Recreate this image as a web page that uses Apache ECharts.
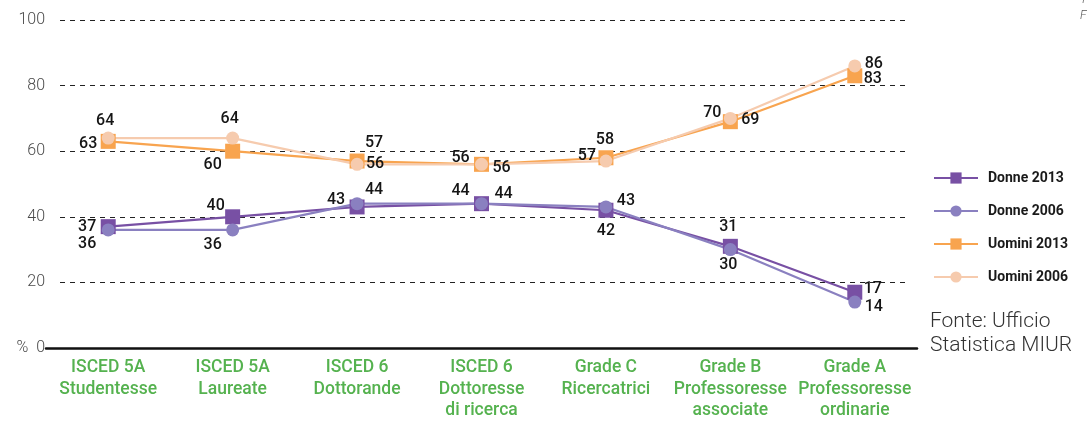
<!DOCTYPE html>
<html>
<head>
<meta charset="utf-8">
<script src="https://cdn.jsdelivr.net/npm/echarts@6/dist/echarts.min.js"></script>
<style>
  html, body { margin: 0; padding: 0; background: #fff; }
  #chart { width: 1087px; height: 422px; }
</style>
</head>
<body>
<div id="chart"></div>
<script>
// Categories (career stages) and shares in percent
const categories = [
  'ISCED 5A\nStudentesse',
  'ISCED 5A\nLaureate',
  'ISCED 6\nDottorande',
  'ISCED 6\nDottoresse\ndi ricerca',
  'Grade C\nRicercatrici',
  'Grade B\nProfessoresse\nassociate',
  'Grade A\nProfessoresse\nordinarie'
];
const donne2013  = [37, 40, 43, 44, 42, 31, 17];
const donne2006  = [36, 36, 44, 44, 43, 30, 14];
const uomini2013 = [63, 60, 57, 56, 58, 69, 83];
const uomini2006 = [64, 64, 56, 56, 57, 70, 86];
const yTicks = [0, 20, 40, 60, 80, 100];

// Label offsets (px) from each point's centre, to keep overlapping labels apart
const offD13 = [[-21, 0], [-17, -11], [-21, -7], [-21, -13], [0, 21], [-2, -19], [18, -3]];
const offD06 = [[-21, 14], [-20, 15], [17, -14], [22, -10], [20, -6], [-2, 15], [19, 5]];
const offU13 = [[-20, 3], [-20, 14], [17, -18], [-21, -6], [-1, -18], [20, -2], [18, 3]];
const offU06 = [[-3, -17], [-3, -19], [18, 0], [20, 4], [-19, -5], [-18, -5], [19, -2]];

const FONT = 'Roboto, "Noto Sans", sans-serif';

function withLabels(values, offsets) {
  return values.map((v, i) => ({
    value: v,
    label: { offset: offsets[i] }
  }));
}

function lineSeries(name, values, offsets, color, symbol, size) {
  return {
    name: name,
    type: 'line',
    xAxisIndex: 1,
    yAxisIndex: 1,
    data: withLabels(values, offsets),
    symbol: symbol,
    symbolSize: size,
    lineStyle: { color: color, width: 2.2 },
    itemStyle: { color: color },
    label: {
      show: true,
      position: 'inside',
      color: '#151515',
      fontFamily: FONT,
      fontSize: 16,
      fontWeight: 500
    },
    emphasis: { disabled: true }
  };
}

const chart = echarts.init(document.getElementById('chart'), null, { renderer: 'canvas' });

chart.setOption({
  animation: false,
  backgroundColor: '#ffffff',
  grid: [
    // background grid: dashed gridlines and y tick labels
    { left: 60, right: 177, top: 20, bottom: 74 },
    // data grid
    { left: 46, right: 170, top: 20, bottom: 74 }
  ],
  xAxis: [
    { gridIndex: 0, type: 'category', data: categories, show: false },
    {
      gridIndex: 1,
      type: 'category',
      data: categories,
      boundaryGap: true,
      axisLine: { show: true, lineStyle: { color: '#111', width: 2.5 } },
      axisTick: { show: false },
      axisLabel: {
        interval: 0,
        color: '#55b24f',
        fontFamily: FONT,
        fontSize: 17.5,
        fontWeight: 500,
        lineHeight: 21.5,
        margin: 9
      }
    }
  ],
  yAxis: [
    {
      gridIndex: 0,
      type: 'value',
      min: 0, max: 100, interval: 20,
      axisLine: { show: false },
      axisTick: { show: false },
      axisLabel: {
        color: '#4a4a4a',
        fontFamily: FONT,
        fontSize: 16,
        fontWeight: 300,
        margin: 15,
        formatter: v => (yTicks.includes(v) ? (v === 0 ? '%  0' : String(v)) : '')
      },
      splitLine: {
        show: true,
        lineStyle: { color: '#222', width: 1, type: [5, 5] }
      }
    },
    {
      gridIndex: 1,
      type: 'value',
      min: 0, max: 100, interval: 20,
      show: false,
      splitLine: { show: false }
    }
  ],
  legend: {
    orient: 'vertical',
    left: 928,
    top: 166,
    itemWidth: 44,
    itemHeight: 14,
    itemGap: 19,
    textStyle: {
      color: '#1a1a1a',
      fontFamily: FONT,
      fontSize: 14,
      fontWeight: 'bold',
      padding: [0, 0, 0, 5]
    },
    data: ['Donne 2013', 'Donne 2006', 'Uomini 2013', 'Uomini 2006']
  },
  graphic: [
    {
      type: 'text',
      left: 930,
      top: 310,
      style: {
        text: 'Fonte: Ufficio\nStatistica MIUR',
        fill: '#333',
        font: '300 21px ' + FONT,
        lineHeight: 24
      }
    },
    {
      type: 'text',
      left: 1080,
      top: 10,
      style: { text: 'F', fill: '#555', font: 'italic 300 12px ' + FONT }
    },
    {
      type: 'text',
      left: 1082,
      top: -6,
      style: { text: 'I', fill: '#555', font: 'italic 300 12px ' + FONT }
    }
  ],
  series: [
    lineSeries('Donne 2013', donne2013, offD13, '#7850a4', 'rect', 15),
    lineSeries('Donne 2006', donne2006, offD06, '#8a80c0', 'circle', 13),
    lineSeries('Uomini 2013', uomini2013, offU13, '#f8a44f', 'rect', 15),
    lineSeries('Uomini 2006', uomini2006, offU06, '#f6cbae', 'circle', 13)
  ]
});
</script>
</body>
</html>
